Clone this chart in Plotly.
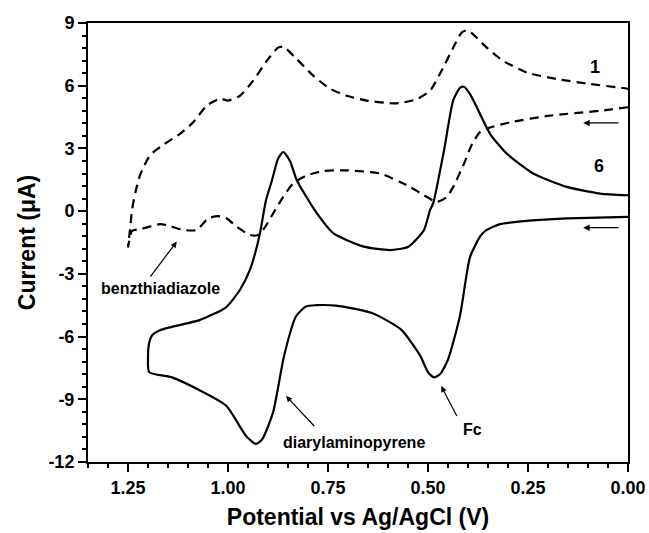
import plotly.graph_objects as go

# Scan 6 (solid)
scan6_x = [0.00, 0.10, 0.153, 0.22, 0.278, 0.32, 0.337, 0.357, 0.37, 0.395, 0.42, 0.45, 0.47, 0.485, 0.50,
           0.52, 0.567, 0.64, 0.73, 0.78, 0.805, 0.83, 0.86, 0.887, 0.914, 0.93, 0.955, 1.005, 1.078, 1.14,
           1.197, 1.20, 1.197, 1.19, 1.17, 1.15, 1.07, 1.005, 0.97, 0.945, 0.93, 0.92, 0.905, 0.89, 0.875,
           0.862, 0.845, 0.828, 0.778, 0.737, 0.66, 0.595, 0.549, 0.51, 0.495, 0.487, 0.46, 0.437, 0.42,
           0.41, 0.395, 0.378, 0.345, 0.303, 0.237, 0.153, 0.07, 0.00]
scan6_y = [-0.27, -0.32, -0.35, -0.42, -0.51, -0.62, -0.75, -0.95, -1.22, -2.2, -5.0, -7.1, -7.8, -7.95, -7.7,
           -6.9, -5.67, -4.87, -4.52, -4.5, -4.56, -5.03, -6.94, -9.6, -10.9, -11.14, -10.75, -9.3, -8.5, -7.95,
           -7.7, -7.0, -6.3, -5.95, -5.7, -5.58, -5.2, -4.6, -3.76, -2.8, -1.86, -1.05, 0.52, 1.48, 2.5,
           2.83, 2.4, 1.48, -0.1, -1.05, -1.7, -1.86, -1.7, -0.9, 0.05, 0.38, 2.9, 5.3, 5.9,
           5.95, 5.6, 4.97, 3.7, 2.75, 1.8, 1.16, 0.84, 0.76]

# Scan 1 (dashed)
scan1_x = [0.00, 0.07, 0.195, 0.295, 0.345, 0.37, 0.39, 0.41, 0.437, 0.453, 0.478, 0.51, 0.545, 0.57, 0.62,
           0.703, 0.76, 0.803, 0.837, 0.862, 0.887, 0.907, 0.925, 0.945, 0.978, 1.003, 1.025, 1.05, 1.078,
           1.112, 1.153, 1.17, 1.216, 1.24, 1.25, 1.245, 1.24, 1.232, 1.22, 1.195, 1.16, 1.12, 1.087, 1.053,
           1.02, 1.0, 0.97, 0.937, 0.903, 0.875, 0.862, 0.828, 0.787, 0.745, 0.703, 0.653, 0.595, 0.57,
           0.528, 0.495, 0.462, 0.437, 0.416, 0.403, 0.387, 0.353, 0.312, 0.253, 0.178, 0.095, 0.012, 0.0]
scan1_y = [4.97, 4.8, 4.57, 4.25, 4.0, 3.78, 3.2, 2.27, 1.16, 0.68, 0.44, 0.76, 1.16, 1.4, 1.8,
           1.95, 1.92, 1.71, 1.33, 0.68, -0.1, -0.75, -1.14, -1.14, -0.75, -0.35, -0.24, -0.35, -0.9,
           -0.9, -0.67, -0.62, -0.85, -0.95, -1.7, -0.9, 0.05, 0.86, 1.71, 2.67, 3.2, 3.7, 4.25, 5.05,
           5.38, 5.29, 5.52, 6.24, 7.19, 7.82, 7.87, 7.27, 6.48, 5.86, 5.52, 5.29, 5.16, 5.17,
           5.36, 5.76, 6.87, 7.82, 8.54, 8.65, 8.46, 7.82, 7.19, 6.63, 6.32, 6.08, 5.89, 5.85]

x_ticks = [1.25, 1.00, 0.75, 0.50, 0.25, 0.00]
x_tick_labels = ["1.25", "1.00", "0.75", "0.50", "0.25", "0.00"]
y_ticks = [9, 6, 3, 0, -3, -6, -9, -12]
y_tick_labels = ["9", "6", "3", "0", "-3", "-6", "-9", "-12"]

FONT = "Liberation Sans, Arial, sans-serif"

fig = go.Figure()
fig.add_trace(go.Scatter(x=scan1_x, y=scan1_y, mode="lines",
                         line=dict(color="black", width=2.2, dash="9px,6px", shape="spline", smoothing=0.6),
                         showlegend=False, hoverinfo="skip"))
fig.add_trace(go.Scatter(x=scan6_x, y=scan6_y, mode="lines",
                         line=dict(color="black", width=2.2, shape="spline", smoothing=0.6),
                         showlegend=False, hoverinfo="skip"))

def bold(size):
    return dict(family=FONT, size=size, color="black", weight="bold")

annotations = [
    dict(x=0.083, y=6.9, text="1", showarrow=False, font=bold(18)),
    dict(x=0.073, y=2.14, text="6", showarrow=False, font=bold(18)),
    # scan direction arrows
    dict(x=0.112, y=4.22, ax=0.02, ay=4.22, axref="x", ayref="y", text="", showarrow=True,
         arrowhead=2, arrowsize=1, arrowwidth=1.3, arrowcolor="black"),
    dict(x=0.112, y=-0.79, ax=0.02, ay=-0.79, axref="x", ayref="y", text="", showarrow=True,
         arrowhead=2, arrowsize=1, arrowwidth=1.3, arrowcolor="black"),
    # peak labels
    dict(x=1.128, y=-1.46, ax=1.197, ay=-3.2, axref="x", ayref="y", text="", showarrow=True,
         arrowhead=2, arrowsize=1, arrowwidth=1.2, arrowcolor="black"),
    dict(x=1.17, y=-3.7, text="benzthiadiazole", showarrow=False, font=bold(16)),
    dict(x=0.855, y=-8.84, ax=0.781, ay=-10.35, axref="x", ayref="y", text="", showarrow=True,
         arrowhead=2, arrowsize=1, arrowwidth=1.2, arrowcolor="black"),
    dict(x=0.685, y=-11.05, text="diarylaminopyrene", showarrow=False, font=bold(16)),
    dict(x=0.467, y=-8.37, ax=0.426, ay=-9.87, axref="x", ayref="y", text="", showarrow=True,
         arrowhead=2, arrowsize=1, arrowwidth=1.2, arrowcolor="black"),
    dict(x=0.389, y=-10.43, text="Fc", showarrow=False, font=bold(16)),
]

fig.update_layout(
    width=649, height=533,
    margin=dict(l=88, r=21, t=23, b=71),
    paper_bgcolor="white", plot_bgcolor="white",
    annotations=annotations,
    font=dict(family=FONT, color="black"),
)
fig.update_xaxes(
    range=[1.35, 0.0], showgrid=False, zeroline=False, automargin=False,
    showline=True, linecolor="black", linewidth=2, mirror=True,
    ticks="outside", ticklen=8, tickwidth=2, tickcolor="black",
    tickvals=x_ticks, ticktext=x_tick_labels, tickfont=bold(18),
    minor=dict(dtick=0.05, ticks="outside", ticklen=4, tickwidth=1.5, tickcolor="black"),
    title=dict(text="Potential vs Ag/AgCl (V)", font=bold(23), standoff=12),
)
fig.update_yaxes(
    range=[-12, 9], showgrid=False, zeroline=False, automargin=False,
    showline=True, linecolor="black", linewidth=2, mirror=True,
    ticks="outside", ticklen=8, tickwidth=2, tickcolor="black",
    tickvals=y_ticks, ticktext=y_tick_labels, tickfont=bold(18),
    minor=dict(dtick=0.6, tick0=0, ticks="outside", ticklen=4, tickwidth=1.5, tickcolor="black"),
    title=dict(text="Current (μA)", font=bold(23), standoff=6),
)

fig.write_html(
    "out.html",
    config={"displayModeBar": False},
    post_script="document.body.style.margin='0';document.body.style.overflow='hidden';",
)
